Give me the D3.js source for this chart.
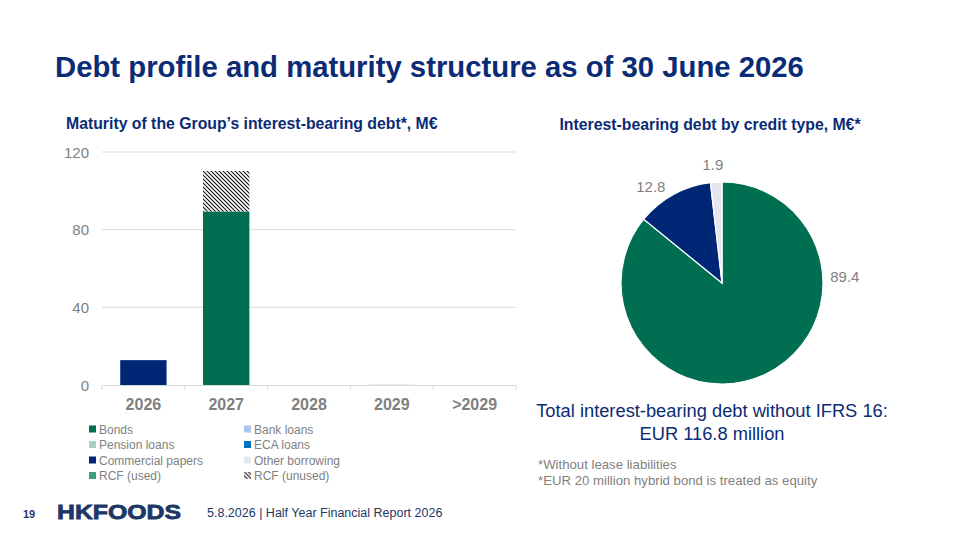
<!DOCTYPE html>
<html>
 <head>
  <meta charset="utf-8">
  <script src="https://d3js.org/d3.v7.min.js"></script>
  <style>
   body { margin: 0; background: #fff; }
   text { font-family: "Liberation Sans", Arial, sans-serif; }
  </style>
 </head>
 <body>
  <div id="slide"></div>
  <script type="text/javascript">
   // maturity chart data, M€
   var years = ["2026", "2027", "2028", "2029", ">2029"];
   var seriesNames = ["Bonds", "Bank loans", "Pension loans", "ECA loans",
                      "Commercial papers", "Other borrowing", "RCF (used)", "RCF (unused)"];
   var bonds            = [0, 89.4, 0, 0, 0];
   var bankLoans        = [0, 0, 0, 0, 0];
   var pensionLoans     = [0, 0, 0, 0, 0];
   var ecaLoans         = [0, 0, 0, 0, 0];
   var commercialPapers = [12.8, 0, 0, 0, 0];
   var otherBorrowing   = [0, 0, 0, 0.4, 0];
   var rcfUsed          = [0, 0, 0, 0, 0];
   var rcfUnused        = [0, 20.8, 0, 0, 0];
   var yTicks = [0, 40, 80, 120];

   // credit type pie, M€
   var pieTypes  = ["Bonds", "Commercial papers", "Other borrowing"];
   var pieValues = [89.4, 12.8, 1.9];

   var navy = "#0b2c74";
   var grey = "#7f7f7f";
   var colors = {
     "Bonds": "#006f51",
     "Bank loans": "#a9c8ec",
     "Pension loans": "#a8d0c1",
     "ECA loans": "#0071bf",
     "Commercial papers": "#002776",
     "Other borrowing": "#e4e8ee",
     "RCF (used)": "#3ba07c",
     "RCF (unused)": "url(#hatch)"
   };

   var svg = d3.select("#slide").append("svg")
     .attr("width", 960).attr("height", 540);

   // hatch pattern for unused RCF
   var defs = svg.append("defs");
   var pat = defs.append("pattern")
     .attr("id", "hatch").attr("patternUnits", "userSpaceOnUse")
     .attr("width", 4).attr("height", 4);
   pat.append("rect").attr("width", 4).attr("height", 4).attr("fill", "#fff");
   pat.append("path").attr("d", "M-1,-1 L5,5 M-1,3 L1,5 M3,-1 L5,1")
     .attr("stroke", "#111").attr("stroke-width", 1.1);

   // titles
   svg.append("text").attr("x", 55).attr("y", 77)
     .attr("font-size", 29.3).attr("font-weight", "bold").attr("fill", navy)
     .text("Debt profile and maturity structure as of 30 June 2026");
   svg.append("text").attr("x", 66).attr("y", 129)
     .attr("font-size", 15.8).attr("font-weight", "bold").attr("fill", navy)
     .text("Maturity of the Group\u2019s interest-bearing debt*, M\u20ac");
   svg.append("text").attr("x", 710).attr("y", 130).attr("text-anchor", "middle")
     .attr("font-size", 15.8).attr("font-weight", "bold").attr("fill", navy)
     .text("Interest-bearing debt by credit type, M\u20ac*");

   // ---- stacked bar chart ----
   var x = d3.scaleBand().domain(years).range([102, 516]).paddingInner(0.44).paddingOuter(0.22);
   var y = d3.scaleLinear().domain([0, 120]).range([385, 152]);

   var rows = years.map(function (yr, i) {
     return {
       year: yr,
       "Bonds": bonds[i], "Bank loans": bankLoans[i], "Pension loans": pensionLoans[i],
       "ECA loans": ecaLoans[i], "Commercial papers": commercialPapers[i],
       "Other borrowing": otherBorrowing[i], "RCF (used)": rcfUsed[i], "RCF (unused)": rcfUnused[i]
     };
   });
   var stacked = d3.stack().keys(seriesNames)(rows);

   svg.append("g").selectAll("line").data(yTicks.slice(1)).enter().append("line")
     .attr("x1", 102).attr("x2", 516)
     .attr("y1", function (d) { return y(d); }).attr("y2", function (d) { return y(d); })
     .attr("stroke", "#d9d9d9").attr("stroke-width", 1);

   svg.append("g").selectAll("text").data(yTicks).enter().append("text")
     .attr("x", 89).attr("y", function (d) { return y(d) + 5.5; })
     .attr("text-anchor", "end").attr("font-size", 15).attr("fill", grey)
     .text(function (d) { return d; });

   svg.append("g").selectAll("g").data(stacked).enter().append("g")
     .attr("fill", function (d) { return colors[d.key]; })
     .selectAll("rect").data(function (d) { return d; }).enter().append("rect")
     .attr("x", function (d) { return x(d.data.year); })
     .attr("width", x.bandwidth())
     .attr("y", function (d) { return y(d[1]); })
     .attr("height", function (d) { return y(d[0]) - y(d[1]); });

   // x axis line with category separators
   var xAxis = d3.axisBottom(x).tickSize(0).tickFormat("");
   svg.append("g").attr("transform", "translate(0,385)").call(xAxis)
     .call(function (g) { g.select(".domain").attr("stroke", "#d9d9d9"); });
   var edges = d3.range(years.length + 1).map(function (i) { return 102 + i * (414 / years.length); });
   svg.append("g").selectAll("line").data(edges).enter().append("line")
     .attr("x1", function (d) { return d; }).attr("x2", function (d) { return d; })
     .attr("y1", 385).attr("y2", 390).attr("stroke", "#d9d9d9");

   svg.append("g").selectAll("text").data(years).enter().append("text")
     .attr("x", function (d) { return x(d) + x.bandwidth() / 2; })
     .attr("y", 409.5).attr("text-anchor", "middle")
     .attr("font-size", 16).attr("font-weight", "bold").attr("fill", grey)
     .text(function (d) { return d; });

   // legend, two columns
   var leg = svg.append("g").selectAll("g").data(seriesNames).enter().append("g")
     .attr("transform", function (d, i) {
       return "translate(" + (i % 2 === 0 ? 89 : 244) + "," + (429 + Math.floor(i / 2) * 15.5) + ")";
     });
   leg.append("rect").attr("x", 0).attr("y", -3.5).attr("width", 7).attr("height", 7)
     .attr("fill", function (d) { return colors[d]; });
   leg.append("text").attr("x", 10).attr("y", 4.5)
     .attr("font-size", 12).attr("fill", grey)
     .text(function (d) { return d; });

   // ---- pie chart ----
   var cx = 722, cy = 283, r = 101;
   var pie = d3.pie().sort(null).value(function (d) { return d; });
   var arc = d3.arc().innerRadius(0).outerRadius(r);
   var arcs = pie(pieValues);
   var pg = svg.append("g").attr("transform", "translate(" + cx + "," + cy + ")");
   pg.selectAll("path").data(arcs).enter().append("path")
     .attr("d", arc)
     .attr("fill", function (d, i) { return colors[pieTypes[i]]; })
     .attr("stroke", "#fff").attr("stroke-width", 1.2);

   // outside-end labels; a slice bigger than half the pie gets its label on the right side
   function labelPos(d) {
     var width = d.endAngle - d.startAngle;
     var a = (width > Math.PI) ? Math.PI / 2 - 0.05 : (d.startAngle + d.endAngle) / 2 - 0.15 * width;
     var w = 30, h = 20, gap = 7;
     var px = Math.sin(a) * (r + gap), py = -Math.cos(a) * (r + gap);
     return [px + Math.sin(a) * w / 2, py - Math.cos(a) * h / 2 + 5];
   }
   pg.selectAll("text").data(arcs).enter().append("text")
     .attr("transform", function (d) { return "translate(" + labelPos(d) + ")"; })
     .attr("text-anchor", "middle")
     .attr("font-size", 15).attr("fill", grey)
     .text(function (d) { return d.value; });

   // total and footnotes
   svg.append("text").attr("x", 712).attr("y", 417).attr("text-anchor", "middle")
     .attr("font-size", 18.3).attr("fill", navy)
     .text("Total interest-bearing debt without IFRS 16:");
   svg.append("text").attr("x", 712).attr("y", 440).attr("text-anchor", "middle")
     .attr("font-size", 18.3).attr("fill", navy)
     .text("EUR 116.8 million");
   svg.append("text").attr("x", 538).attr("y", 469)
     .attr("font-size", 13.2).attr("fill", grey).text("*Without lease liabilities");
   svg.append("text").attr("x", 538).attr("y", 485)
     .attr("font-size", 13.2).attr("fill", grey).text("*EUR 20 million hybrid bond is treated as equity");

   // footer
   svg.append("text").attr("x", 23).attr("y", 518)
     .attr("font-size", 11).attr("font-weight", "bold").attr("fill", "#1d3766").text("19");
   svg.append("text").attr("x", 57).attr("y", 519)
     .attr("font-family", "'DejaVu Sans', sans-serif")
     .attr("font-size", 21).attr("font-weight", "bold").attr("fill", "#1d3766")
     .attr("stroke", "#1d3766").attr("stroke-width", 0.8)
     .attr("textLength", 124).attr("lengthAdjust", "spacingAndGlyphs")
     .text("HKFOODS");
   svg.append("text").attr("x", 207).attr("y", 517)
     .attr("font-size", 12.5).attr("fill", "#1d3766")
     .text("5.8.2026  |  Half Year Financial Report 2026");
  </script>
 </body>
</html>
